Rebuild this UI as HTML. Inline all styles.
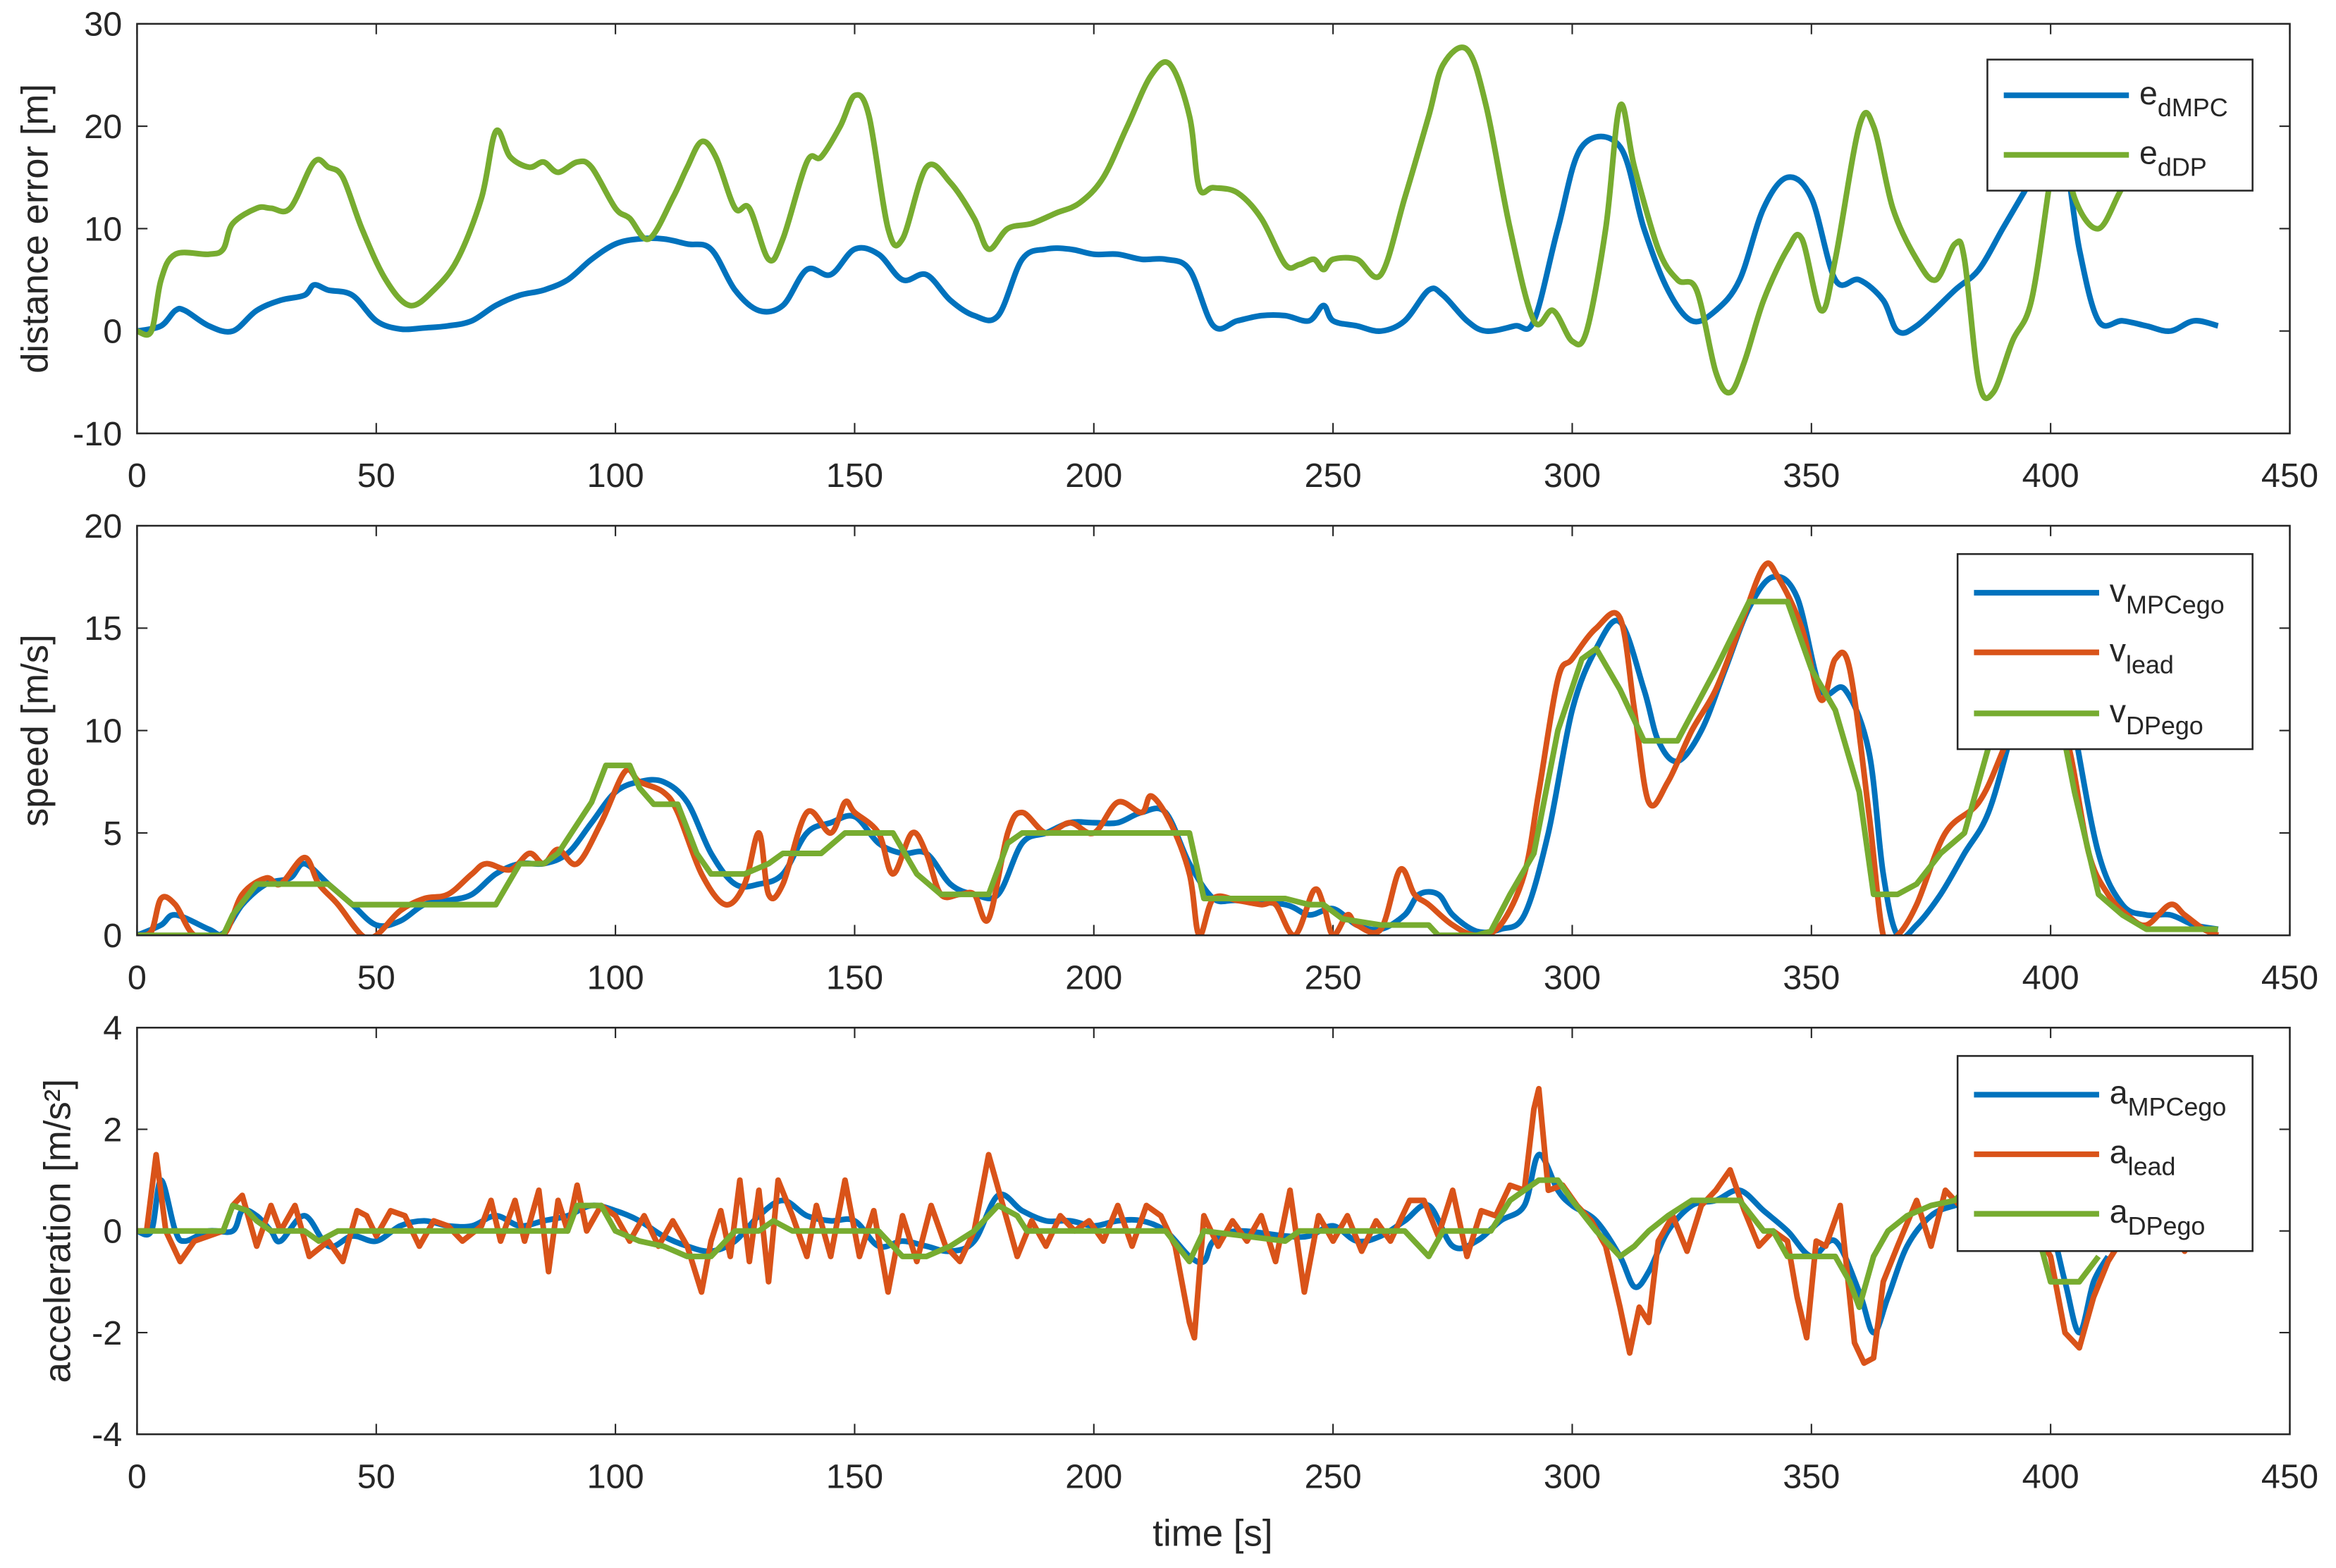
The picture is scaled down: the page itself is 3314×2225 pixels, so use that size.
<!DOCTYPE html>
<html><head><meta charset="utf-8"><style>html,body{margin:0;padding:0;background:#fff}svg{display:block}text{font-family:"Liberation Sans",Arial,sans-serif;fill:#262626}</style></head>
<body>
<svg id="fig" xmlns="http://www.w3.org/2000/svg" width="3314" height="2225" viewBox="0 0 1568 1052.8" preserveAspectRatio="none">
<rect width="1568" height="1053" fill="#fff"/>
<g id="root"></g>
</svg>
<script>
// ---- data ----
const xTicks=[0,50,100,150,200,250,300,350,400,450];
const yTicks1=[-10,0,10,20,30];
const yTicks2=[0,5,10,15,20];
const yTicks3=[-4,-2,0,2,4];
const eMPC_t=[0,5,8,10,15,20,25,30,35,37,40,45,50,55,60,65,70,75,80,85,90,95,100,105,110,115,120,125,130,135,140,145,150,155,160,165,170,175,180,185,190,195,200,205,210,215,220,225,230,235,240,245,248,250,255,260,265,270,273,278,282,288,292,297,302,310,315,320,325,330,335,340,345,350,355,360,365,368,372,380,385,390,395,400,403,406,410,415,420,425,430,435];
const eMPC_v=[0,0.5,2,2,0.5,0,2,3,3.5,4.5,4,3.5,1,0.2,0.3,0.5,1,2.5,3.5,4,5,7,8.5,9,9,8.5,8,4,2,2.5,6,5.5,8,7.5,5,5.5,3,1.5,1.5,7,8,8,7.5,7.5,7,7,6,0.5,1,1.5,1.5,1,2.5,1,0.5,0,1,4,3.5,1,0,0.5,1,10,18,18,10,4,1,2,5,12,15,13,5,5,3,0,0.5,4,6,10,14,18,17,8,1,1,0.5,0,1,0.5];
const eDP_t=[0,3,5,8,15,18,20,25,28,32,37,40,43,47,52,57,62,67,72,75,78,82,85,88,92,95,100,103,107,112,115,118,121,125,128,132,135,140,143,147,150,153,157,160,165,170,175,178,182,187,192,197,202,207,212,216,220,222,225,230,235,240,243,246,248,250,255,260,265,270,273,278,282,287,292,296,300,303,307,310,313,318,322,326,330,333,336,340,345,348,352,355,360,363,367,372,376,380,382,385,388,392,396,400,402,405,410,415,420];
const eDP_v=[0,0,5,7.5,7.5,8,10.5,12,12,12,16.5,16,15,10,5,2.5,4,7,13,19.5,17,16,16.5,15.5,16.5,16,12,11,9,13,16,18.5,17,12,12,7,9,16.5,17,20,23,21,10,9,16,14.5,11,8,10,10.5,11.5,12.5,15,20,25,26,21,14,14,13.5,11,6.5,6.5,7,6,7,7,5.5,13,21,26,27.5,22,10,1,2,-1,0,10,22,16,8,5,4,-4,-6,-3,3,8,9,2,7,20,20,12,7,5,8.5,7,-5,-6,-1,3,15,20,13,10,14,17];
const vMPC_t=[0,5,8,15,18,22,27,32,35,40,45,50,55,60,65,70,75,80,85,90,95,100,105,110,115,120,125,130,135,140,145,150,155,160,165,170,175,180,185,190,195,200,205,210,215,220,225,230,240,245,250,255,260,265,268,272,275,280,285,290,295,300,305,310,315,318,322,327,332,337,342,347,352,357,362,365,368,372,377,382,387,392,397,402,405,410,415,420,425,430,435];
const vMPC_v=[0,0.5,1,0.3,0.1,1.5,2.5,2.8,3.5,2.5,1.5,0.5,0.7,1.5,1.7,2,3,3.5,3.5,4,5.5,7,7.5,7.5,6.5,4,2.5,2.5,3,5,5.5,5.8,4.5,4,4,2.5,2,2,4.5,5,5.5,5.5,5.5,6,6,3.5,1.8,1.7,1.5,1,1.3,0.5,0.3,1,2,2,1,0.2,0.3,1,5,11,14,15.3,12,9.5,8.5,10,13,16,17.5,16.5,12,12,9,3,0,0.5,2,4,6,10,14,14,10,4,1.5,1,1,0.5,0.3];
const vLead_t=[0,3,5,8,12,18,22,27,30,35,38,42,47,50,55,60,65,70,73,78,82,85,88,92,97,102,105,110,113,118,123,127,130,132,135,140,145,148,150,155,158,162,165,168,172,175,178,182,185,190,195,200,205,210,212,216,220,222,225,230,235,238,242,246,248,250,253,255,260,264,267,270,275,280,285,290,293,297,300,305,310,313,316,320,325,330,335,340,343,348,352,355,358,362,365,368,372,378,385,390,395,400,404,408,412,416,420,425,428,432,435];
const vLead_v=[0,0.2,1.8,1.5,0,0,2,2.8,2.5,3.8,2.5,1.5,0,0,1.2,1.8,2,3,3.5,3.2,4,3.5,4.2,3.5,5.5,8,7.5,7,6,3,1.5,2.5,5,2,2.5,6,5,6.5,6,5,3,5,4,2,2,2,0.8,5,6,5,5.5,5,6.5,6,6.8,5.5,3,0,1.8,1.7,1.5,1.5,0,2.2,1.5,0,1,0.5,0.3,3.2,2,1.5,0.5,0,0.5,3,7,12.5,13.5,15,15.5,11,6.5,7.5,10,12,15,18,17.5,15,11.5,13.5,13,6,0,0,1.5,5,6.5,9,12,12,9,4,2,1,0.5,1.5,1,0.3,0];
const vDP_t=[0,18,20,25,40,45,75,80,85,88,95,98,103,105,108,113,117,120,127,132,135,143,148,158,163,168,178,182,185,220,223,240,245,248,252,260,270,272,280,283,287,292,297,302,305,310,315,322,330,337,345,350,355,360,363,368,372,377,382,388,392,395,400,405,410,415,420,435];
const vDP_v=[0,0,1,2.5,2.5,1.5,1.5,3.5,3.5,4,6.5,8.3,8.3,7.2,6.4,6.4,4,3,3,3.5,4,4,5,5,3,2,2,4.5,5,5,1.8,1.8,1.5,1.5,0.8,0.5,0.5,0,0,0.2,2,4,10,13.5,14,12,9.5,9.5,13,16.3,16.3,13,11,7,2,2,2.5,4,5,10,13.5,14,13,7,2,1,0.3,0.3];
const aMPC_t=[0,3,5,8,10,15,20,22,25,28,30,35,40,45,50,55,60,65,70,75,80,85,90,95,100,105,110,115,120,125,130,135,140,145,150,155,160,165,170,175,180,185,190,195,200,205,210,215,220,223,225,230,240,245,250,255,260,265,270,275,280,285,290,293,297,300,305,310,313,316,320,325,330,335,340,345,350,355,360,363,366,370,375,380,385,390,395,400,403,406,409,412];
const aMPC_v=[0,0,1,0,-0.2,0,0,0.4,0.3,0,-0.2,0.3,-0.3,-0.1,-0.2,0.1,0.2,0.1,0.1,0.3,0.1,0.2,0.3,0.5,0.4,0.2,-0.1,-0.3,-0.4,-0.2,0.3,0.6,0.3,0.2,0.2,-0.3,-0.2,-0.3,-0.4,-0.2,0.7,0.4,0.2,0.2,0.1,0.2,0.2,0,-0.5,-0.6,-0.2,0,-0.1,-0.1,0.1,-0.2,-0.1,0.2,0.5,-0.3,-0.2,0.2,0.5,1.5,0.8,0.5,0.2,-0.5,-1.1,-0.8,0,0.5,0.6,0.8,0.4,0,-0.5,-0.2,-1.2,-2,-1.3,-0.3,0.3,0.5,0.6,0.4,0.3,0,-1,-2,-1,-0.5];
const aLead_t=[0,2,4,6,9,12,18,20,22,25,28,30,33,36,40,43,46,48,50,53,56,59,62,65,68,72,74,76,79,81,84,86,88,90,92,94,97,100,103,106,109,112,115,118,120,122,124,126,128,130,132,134,137,140,142,145,148,151,154,157,160,163,166,169,172,175,178,181,184,187,190,193,196,199,202,205,208,211,214,217,220,221,223,226,229,232,235,238,241,244,247,250,253,256,259,262,266,269,272,275,278,281,284,287,290,292,293,295,298,301,304,307,310,312,314,316,318,321,324,327,330,333,336,339,342,345,347,349,351,353,356,359,361,363,365,368,372,375,378,381,384,387,390,395,400,403,406,409,412,416,420,425,428,430];
const aLead_v=[0,0,1.5,0,-0.6,-0.2,0,0.5,0.7,-0.3,0.5,0,0.5,-0.5,-0.2,-0.6,0.4,0.3,-0.1,0.4,0.3,-0.3,0.2,0.1,-0.2,0.1,0.6,-0.2,0.6,-0.2,0.8,-0.8,0.6,0,0.9,0,0.5,0.3,-0.2,0.3,-0.3,0.2,-0.3,-1.2,-0.2,0.4,-0.5,1,-0.6,0.8,-1,1,0.3,-0.5,0.5,-0.5,1,-0.5,0.4,-1.2,0.3,-0.6,0.5,-0.3,-0.6,0,1.5,0.5,-0.5,0.2,-0.3,0.3,0,0.2,-0.2,0.5,-0.3,0.5,0.3,-0.3,-1.8,-2.1,0.3,-0.3,0.2,-0.2,0.3,-0.6,0.8,-1.2,0.3,-0.2,0.3,-0.4,0.2,-0.2,0.6,0.6,-0.1,0.8,-0.5,0.4,0.3,0.9,0.8,2.4,2.8,0.8,0.9,0.5,0.2,-0.3,-1.5,-2.4,-1.5,-1.8,-0.2,0.3,-0.4,0.5,0.8,1.2,0.4,-0.3,0,-0.2,-1.3,-2.1,-0.2,-0.3,0.5,-2.2,-2.6,-2.5,-1,-0.3,0.6,-0.3,0.8,0.5,0.8,0,0.5,0.3,-0.5,-2,-2.3,-1.3,-0.6,0,0.2,0,-0.4,0];
const aDP_t=[0,18,20,23,25,28,35,38,42,90,92,97,100,105,110,115,120,125,130,133,137,155,160,165,170,175,180,184,186,215,220,223,240,243,265,270,273,283,287,290,293,297,300,305,310,313,316,320,325,335,340,342,345,355,358,360,363,366,370,375,380,383,386,390,398,400,406,410];
const aDP_v=[0,0,0.5,0.4,0.2,0,0,-0.2,0,0,0.5,0.5,0,-0.2,-0.3,-0.5,-0.5,0,0,0.2,0,0,-0.5,-0.5,-0.3,0,0.5,0.3,0,0,-0.6,0,-0.2,0,0,-0.5,0,0,0.6,0.8,1,1,0.6,0,-0.5,-0.3,0,0.3,0.6,0.6,0,0,-0.5,-0.5,-1,-1.5,-0.5,0,0.3,0.5,0.6,0.9,0.6,0,-0.3,-1,-1,-0.5];

const NS='http://www.w3.org/2000/svg';
const root=document.getElementById('root');
const X0=92,X1=1537;
const BLUE='#0072BD',ORANGE='#D95319',GREEN='#77AC30';
function mk(tag,attrs,parent){const e=document.createElementNS(NS,tag);for(const k in attrs)e.setAttribute(k,attrs[k]);(parent||root).appendChild(e);return e;}
const xs=t=>X0+(t/450)*(X1-X0);

function pathD(P,smooth){
  if(!smooth) return P.map((p,i)=>(i?'L':'M')+p[0].toFixed(1)+' '+p[1].toFixed(1)).join(' ');
  let d='M'+P[0][0].toFixed(1)+' '+P[0][1].toFixed(1);
  for(let i=0;i<P.length-1;i++){
    const p0=P[Math.max(0,i-1)],p1=P[i],p2=P[i+1],p3=P[Math.min(P.length-1,i+2)];
    const k=1/6;
    const c1=[p1[0]+(p2[0]-p0[0])*k,p1[1]+(p2[1]-p0[1])*k];
    const c2=[p2[0]-(p3[0]-p1[0])*k,p2[1]-(p3[1]-p1[1])*k];
    d+=` C${c1[0].toFixed(1)} ${c1[1].toFixed(1)} ${c2[0].toFixed(1)} ${c2[1].toFixed(1)} ${p2[0].toFixed(1)} ${p2[1].toFixed(1)}`;
  }
  return d;
}

const panels=[
 {top:16,bot:291,min:-10,max:30,ticks:yTicks1,label:'distance error [m]',name:'distance-panel',
  series:[[eMPC_t,eMPC_v,BLUE,'e-dmpc-line',1],[eDP_t,eDP_v,GREEN,'e-ddp-line',1]],
  legend:{x:1334,y:40,w:178,h:88,rows:[64,104],items:[['e','dMPC',BLUE],['e','dDP',GREEN]]}},
 {top:353,bot:628,min:0,max:20,ticks:yTicks2,label:'speed [m/s]',name:'speed-panel',
  series:[[vMPC_t,vMPC_v,BLUE,'v-mpc-ego-line',1],[vLead_t,vLead_v,ORANGE,'v-lead-line',1],[vDP_t,vDP_v,GREEN,'v-dp-ego-line',0]],
  legend:{x:1314,y:372,w:198,h:131,rows:[398,438,479],items:[['v','MPCego',BLUE],['v','lead',ORANGE],['v','DPego',GREEN]]}},
 {top:690,bot:963,min:-4,max:4,ticks:yTicks3,label:'acceleration [m/s²]',name:'acceleration-panel',
  series:[[aMPC_t,aMPC_v,BLUE,'a-mpc-ego-line',1],[aLead_t,aLead_v,ORANGE,'a-lead-line',0],[aDP_t,aDP_v,GREEN,'a-dp-ego-line',0]],
  legend:{x:1314,y:709,w:198,h:131,rows:[735,775,815],items:[['a','MPCego',BLUE],['a','lead',ORANGE],['a','DPego',GREEN]]}}
];

panels.forEach((p,pi)=>{
  const g=mk('g',{});
  
  
  const ys=v=>p.bot-(v-p.min)/(p.max-p.min)*(p.bot-p.top);
  const cid='clip'+pi;
  const cp=mk('clipPath',{id:cid},g);mk('rect',{x:X0,y:p.top,width:X1-X0,height:p.bot-p.top},cp);
  xTicks.forEach(t=>{
    const x=xs(t);
    mk('line',{x1:x,y1:p.bot,x2:x,y2:p.bot-7,stroke:'#262626','stroke-width':1},g);
    mk('line',{x1:x,y1:p.top,x2:x,y2:p.top+7,stroke:'#262626','stroke-width':1},g);
    const tx=mk('text',{x:x,y:p.bot+36,'text-anchor':'middle','font-size':23},g);tx.textContent=t;
    
    
  });
  p.ticks.forEach(v=>{
    const y=ys(v);
    mk('line',{x1:X0,y1:y,x2:X0+7,y2:y,stroke:'#262626','stroke-width':1},g);
    mk('line',{x1:X1,y1:y,x2:X1-7,y2:y,stroke:'#262626','stroke-width':1},g);
    const tx=mk('text',{x:X0-10,y:y+8,'text-anchor':'end','font-size':23},g);tx.textContent=v;
    
    
  });
  const yl=mk('text',{x:0,y:0,'text-anchor':'middle','font-size':25,transform:`translate(${pi==2?47:32},${(p.top+p.bot)/2}) rotate(-90)`},g);
  yl.textContent=p.label;
  
  
  p.series.forEach(s=>{
    const P=s[0].map((t,i)=>[xs(t),ys(s[1][i])]);
    const pa=mk('path',{d:pathD(P,s[4]),fill:'none',stroke:s[2],'stroke-width':3.8,'stroke-linejoin':'round','clip-path':`url(#${cid})`},g);
    
    
  });
  mk('rect',{x:X0,y:p.top,width:X1-X0,height:p.bot-p.top,fill:'none',stroke:'#262626','stroke-width':1.2},g);
  const L=p.legend;
  const lg=mk('g',{},g);
  
  
  mk('rect',{x:L.x,y:L.y,width:L.w,height:L.h,fill:'#fff',stroke:'#262626','stroke-width':1.2},lg);
  L.items.forEach((it,i)=>{
    const y=L.rows[i];
    const lx=L.x+11;
    const ln=mk('line',{x1:lx,y1:y,x2:lx+84,y2:y,stroke:it[2],'stroke-width':3.8},lg);
    
    
    const tx=mk('text',{x:lx+91,y:y+6,'font-size':22},lg);
    
    
    tx.textContent=it[0];
    const sub=mk('tspan',{dy:8,'font-size':17},tx);sub.textContent=it[1];
  });
});
const xl=mk('text',{x:814,y:1038,'text-anchor':'middle','font-size':25});
xl.textContent='time [s]';


</script>
</body></html>
